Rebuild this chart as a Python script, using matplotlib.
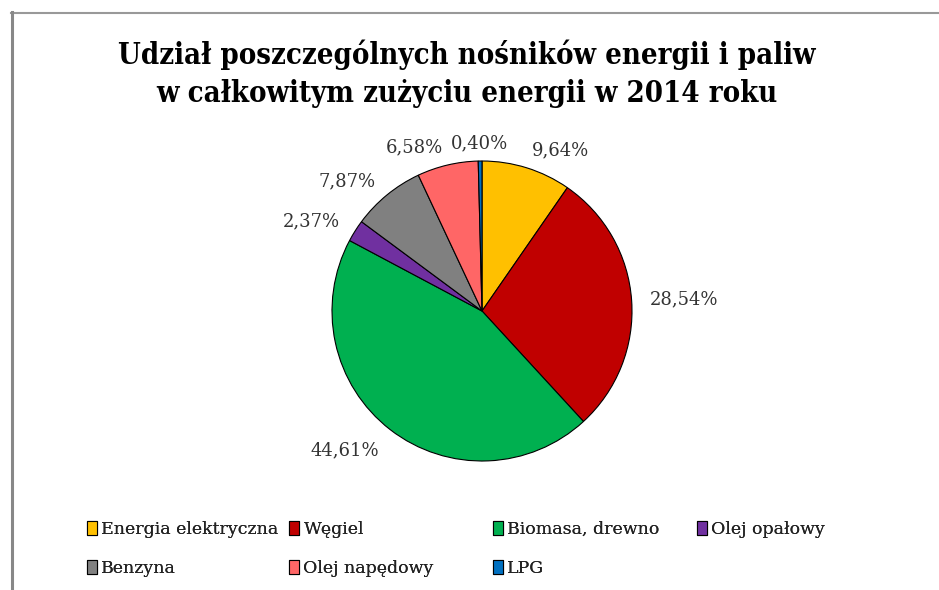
import matplotlib.pyplot as plt
from matplotlib.lines import Line2D

# dane
categories = ['Energia elektryczna', 'Węgiel', 'Biomasa, drewno', 'Olej opałowy',
              'Benzyna', 'Olej napędowy', 'LPG']
shares = [9.64, 28.54, 44.61, 2.37, 7.87, 6.58, 0.40]
colors = ['#FFC000', '#C00000', '#00B050', '#7030A0', '#808080', '#FF6666', '#0070C0']
labels = [f'{v:.2f}%'.replace('.', ',') for v in shares]

W, H = 939, 590
fig = plt.figure(figsize=(W / 100, H / 100), dpi=100)

# pie axes: 300x300 px, centre (482, 311)
cx, cy, r = 482, 311, 150
ax = fig.add_axes([(cx - r) / W, (H - cy - r) / H, 2 * r / W, 2 * r / H])
wedges, texts = ax.pie(shares, colors=colors, labels=labels, startangle=90,
                       counterclock=False, labeldistance=1.12,
                       wedgeprops=dict(edgecolor='black', linewidth=0.8),
                       textprops=dict(family='DejaVu Serif', fontsize=13, color='#333333'))
ax.set_xlim(-1, 1)
ax.set_ylim(-1, 1)
# najmniejsza etykieta (LPG) wyśrodkowana nad wycinkiem
texts[-1].set_ha('center')
# etykieta biomasy nieco niżej, jak w oryginale
bx, by = texts[2].get_position()
texts[2].set_position((bx, by - 0.04))

fig.text(0.497, 1 - 55 / H, 'Udział poszczególnych nośników energii i paliw',
         ha='center', va='center', fontsize=21, fontweight='bold',
         family='DejaVu Serif', fontstretch='condensed')
fig.text(0.497, 1 - 93 / H, 'w całkowitym zużyciu energii w 2014 roku',
         ha='center', va='center', fontsize=21, fontweight='bold',
         family='DejaVu Serif', fontstretch='condensed')

# legenda - kolumny jak w Excelu
columns = [[0, 4], [1, 5], [2, 6], [3]]
col_x = [78, 280, 484, 688]
for idx, x in zip(columns, col_x):
    leg = fig.legend([wedges[i] for i in idx], [categories[i] for i in idx],
                     loc='upper left', bbox_to_anchor=(x / W, 1 - 512 / H),
                     frameon=False, handlelength=0.6, handleheight=0.9,
                     handletextpad=0.25, labelspacing=1.25, borderpad=0,
                     prop=dict(family='DejaVu Serif', size=12.5))
    for t in leg.get_texts():
        t.set_color('#222222')
    fig.add_artist(leg)

# ramka wykresu
fig.add_artist(Line2D([11 / W, 1], [1 - 12.5 / H] * 2, color='#999999', lw=1.5))
fig.add_artist(Line2D([12 / W] * 2, [1 - 12 / H, 1 - 588 / H], color='#888888', lw=2.2))

fig.savefig('out.png', dpi=100, facecolor='white')
